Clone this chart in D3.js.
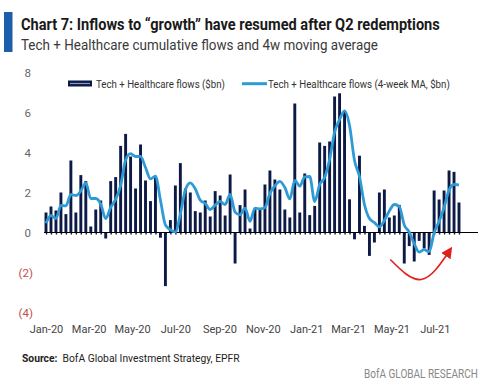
<!DOCTYPE html>
<html>
<head>
<meta charset="utf-8">
<script src="https://cdn.jsdelivr.net/npm/d3@7"></script>
<style>
  body { margin:0; background:#fff; }
  svg { display:block; }
  text { font-family:Roboto,"Noto Sans",sans-serif; }
</style>
</head>
<body>
<script>
// weekly flows, $bn (first week = 1 Jan 2020)
var firstWeek = "2020-01-01";
var flows = [1.0,1.3,1.1,2.0,0.92,3.6,1.0,2.87,2.57,0.3,1.15,1.6,-0.3,2.57,2.77,4.33,4.93,3.8,2.2,4.4,
  2.6,1.57,2.8,-0.26,-2.68,0.62,2.35,3.47,2.2,2.0,1.07,1.0,1.6,0.8,2.07,1.85,0.85,2.9,-1.55,1.37,
  2.15,0.2,1.2,1.2,2.4,3.1,2.65,2.15,1.15,0.75,6.45,1.0,2.95,0.87,1.33,4.5,4.33,4.55,6.8,6.96,
  6.05,1.66,-0.34,3.84,0.33,-1.17,-0.5,2.0,2.15,0.75,0.85,1.38,-1.55,-0.68,-1.45,-0.42,-0.8,-1.12,2.1,1.65,
  2.1,3.1,3.03,1.5];
// 4-week moving average, $bn
var movingAvg = [0.46,0.85,0.7,1.35,1.33,1.9,1.85,2.08,2.48,1.7,1.7,1.42,0.7,1.26,1.66,2.36,3.63,3.94,3.8,3.8,
  3.25,2.68,2.82,1.62,0.38,0.13,0.03,0.92,2.12,2.48,2.18,1.62,1.45,1.15,1.37,1.56,1.4,1.9,1.02,0.88,
  1.22,0.56,1.22,1.18,1.25,1.96,2.33,2.56,2.25,1.68,2.6,2.32,2.78,2.8,1.55,2.4,2.75,3.66,5.02,5.65,
  6.08,5.35,3.6,2.8,1.4,0.7,0.5,0.28,0.6,1.08,1.4,1.3,0.38,0.02,-0.56,-0.98,-0.86,-0.96,-0.02,0.55,
  1.25,2.12,2.4,2.38];
var tickLabels = ["Jan-20","Mar-20","May-20","Jul-20","Sep-20","Nov-20","Jan-21","Mar-21","May-21","Jul-21"];
var yTicks = [8,6,4,2,0,-2,-4];
// annotation arrow: [week index, value]
var arrowPts = [[69.2,-1.35],[75.4,-2.35],[81,-0.95]];

var width = 500;
var height = 385;
var navy = "#0c1a45";
var lightBlue = "#2e9bd6";

var svg = d3.select("body").append("svg")
  .attr("width",width)
  .attr("height",height);

// the house font is condensed: draw a text at (x,y) and squeeze it horizontally to width w
var fitText = function(parent,x,y,w,anchor){
  var g = parent.append("g");
  var t = g.append("text").attr("x",0).attr("y",0);
  return {
    text: t,
    done: function(){
      var k = w / t.node().getComputedTextLength();
      var x0 = anchor==="end" ? x - w : x;
      g.attr("transform","translate("+x0+","+y+") scale("+k+",1)");
    }
  };
};

var start = d3.isoParse(firstWeek);
var weeks = flows.map(function(d,i){ return d3.timeDay.offset(start,7*i); });
var parseTick = d3.timeParse("%b-%y");

var xScale = d3.scaleTime()
  .domain([weeks[0],weeks[weeks.length-1]])
  .range([46,459]);
var yScale = d3.scaleLinear()
  .domain([-4,8])
  .range([312.5,72.5]);
var xIdx = d3.scaleLinear().domain([0,weeks.length-1]).range([46,459]);

// title block
svg.append("rect").attr("x",4).attr("y",12).attr("width",8.5).attr("height",40).attr("fill","#1c5eab");
var title = fitText(svg,21,30,419);
title.text.attr("font-size",17).attr("font-weight","bold").attr("fill","#1a1a1a")
  .text("Chart 7: Inflows to \u201cgrowth\u201d have resumed after Q2 redemptions");
title.done();
var sub = fitText(svg,21,50,357);
sub.text.attr("font-size",15.5).attr("fill","#3a3a3a")
  .text("Tech + Healthcare cumulative flows and 4w moving average");
sub.done();

// y labels
var yAxis = d3.axisLeft(yScale).tickValues(yTicks).tickSize(0)
  .tickFormat(function(d){ return d<0 ? "("+Math.abs(d)+")" : d; });
var yG = svg.append("g").attr("transform","translate(36,0)").call(yAxis);
yG.select(".domain").remove();
yG.selectAll("text")
  .attr("font-size",11.5)
  .attr("font-family","Roboto,sans-serif")
  .attr("dx",function(d){ return d<0 ? 0 : -2; })
  .attr("fill",function(d){ return d<0 ? "#c0504d" : "#666"; });

// bars
var barW = 2.9;
svg.append("g").selectAll("rect")
  .data(flows)
  .enter()
  .append("rect")
  .attr("x",function(d,i){ return xScale(weeks[i])-barW/2; })
  .attr("y",function(d){ return yScale(Math.max(0,d)); })
  .attr("width",barW)
  .attr("height",function(d){ return Math.abs(yScale(d)-yScale(0)); })
  .attr("fill",navy);

// zero line with small category ticks
var zeroAxis = d3.axisBottom(xScale).tickValues(weeks).tickSize(2).tickFormat("");
var zG = svg.append("g").attr("transform","translate(0,"+yScale(0)+")").call(zeroAxis);
zG.select(".domain").remove();
zG.selectAll(".tick line").attr("stroke",navy).attr("stroke-width",1.4);
svg.append("line")
  .attr("x1",44).attr("x2",478)
  .attr("y1",yScale(0)).attr("y2",yScale(0))
  .attr("stroke","#000").attr("stroke-width",1.2);

// moving average line
var line = d3.line()
  .x(function(d,i){ return xScale(weeks[i]); })
  .y(function(d){ return yScale(d); })
  .curve(d3.curveMonotoneX);
svg.append("path")
  .datum(movingAvg)
  .attr("d",line)
  .attr("fill","none")
  .attr("stroke",lightBlue)
  .attr("stroke-width",2.8)
  .attr("stroke-linejoin","round");

// x axis labels
var xAxis = d3.axisBottom(xScale)
  .tickValues(tickLabels.map(function(t){ return parseTick(t); }))
  .tickSize(0)
  .tickFormat(function(d,i){ return tickLabels[i]; });
var xG = svg.append("g").attr("transform","translate(0,322)").call(xAxis);
xG.select(".domain").remove();
xG.selectAll("text")
  .attr("font-size",11)
  .attr("font-family","Roboto,sans-serif")
  .attr("fill","#444");

// legend
var lg = svg.append("g");
lg.append("rect").attr("x",68).attr("y",80.5).attr("width",24).attr("height",6).attr("fill",navy);
lg.append("line").attr("x1",70).attr("x2",90).attr("y1",83.5).attr("y2",83.5)
  .attr("stroke","#7f9bd0").attr("stroke-width",1.2);
var lt1 = fitText(lg,96,87.5,129);
lt1.text.attr("font-size",11.5).attr("fill","#333").text("Tech + Healthcare flows ($bn)");
lt1.done();
lg.append("line").attr("x1",242).attr("x2",267).attr("y1",83.7).attr("y2",83.7)
  .attr("stroke",lightBlue).attr("stroke-width",3);
var lt2 = fitText(lg,268,87.5,182);
lt2.text.attr("font-size",11.5).attr("fill","#333").text("Tech + Healthcare flows (4-week MA, $bn)");
lt2.done();

// red arrow annotation
svg.append("defs").append("marker")
  .attr("id","head")
  .attr("viewBox","0 0 10 10")
  .attr("refX",5).attr("refY",5)
  .attr("markerWidth",7).attr("markerHeight",7)
  .attr("orient","auto")
  .append("path").attr("d","M0,0L10,5L0,10z").attr("fill","#e0201c");
var arrowLine = d3.line()
  .x(function(d){ return xIdx(d[0]); })
  .y(function(d){ return yScale(d[1]); })
  .curve(d3.curveNatural);
svg.append("path")
  .attr("d",arrowLine(arrowPts))
  .attr("fill","none")
  .attr("stroke","#e0201c")
  .attr("stroke-width",1.6)
  .attr("marker-end","url(#head)");

// footer
var src = fitText(svg,22,362,218);
src.text.attr("font-size",11.5).attr("fill","#222");
src.text.append("tspan").attr("font-weight","bold").text("Source:");
src.text.append("tspan").text("\u00a0\u00a0BofA Global Investment Strategy, EPFR");
src.done();
var brand = fitText(svg,478,378,114,"end");
brand.text.attr("font-size",12).attr("fill","#888").text("BofA GLOBAL RESEARCH");
brand.done();
</script>
</body>
</html>
